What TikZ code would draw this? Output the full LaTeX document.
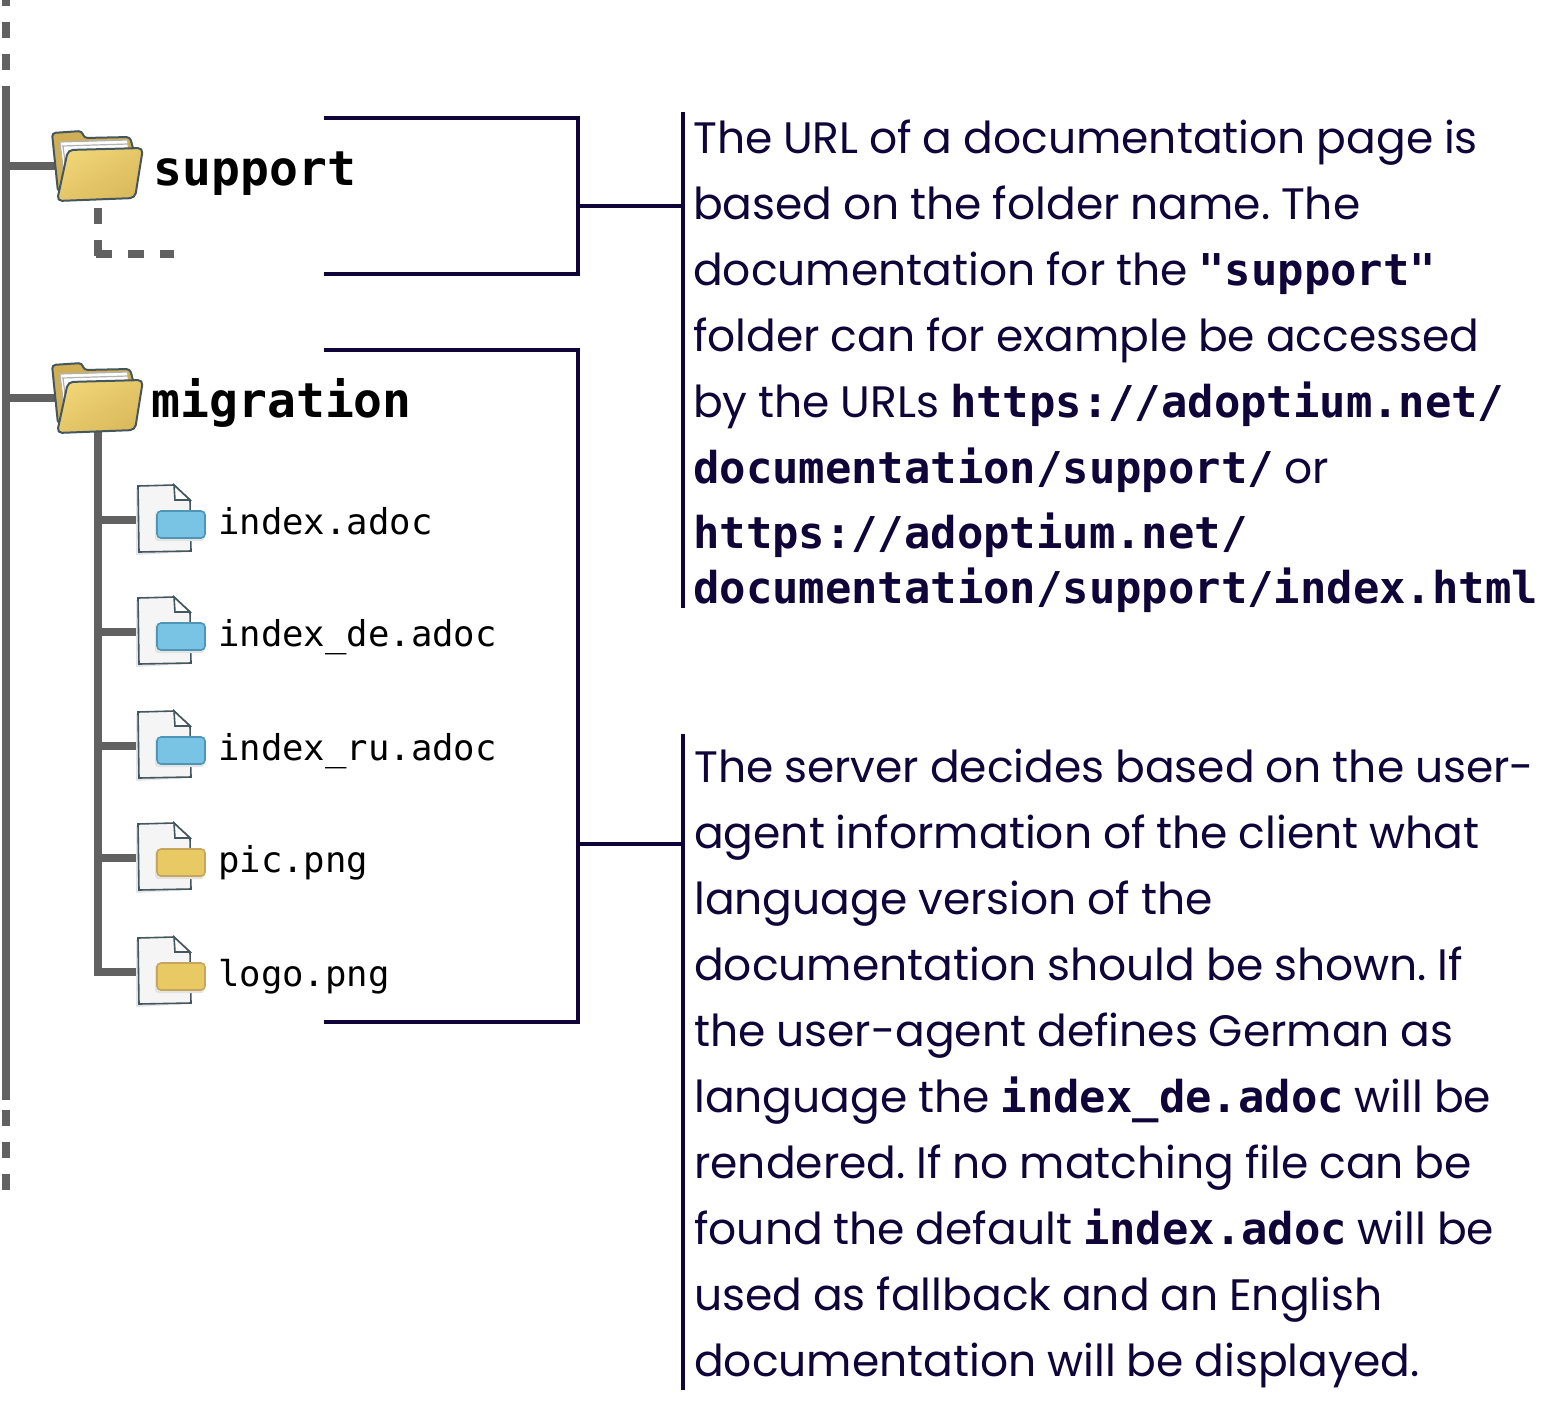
\documentclass[tikz,border=0pt]{standalone}
\usepackage{fontspec}
\setmainfont[WordSpace=0.92]{Poppins}
\setmonofont{DejaVu Sans Mono}
\usetikzlibrary{calc}
\definecolor{inkblue}{HTML}{0F0538}
\definecolor{treegrey}{HTML}{616161}
\definecolor{iconedge}{HTML}{44575E}
\definecolor{folderback}{HTML}{CFAE55}
\definecolor{folderlight}{HTML}{EFD475}
\definecolor{folderdark}{HTML}{DABA5C}
\definecolor{badgeblue}{HTML}{79C4E4}
\definecolor{badgeblueedge}{HTML}{4F95B8}
\definecolor{badgeyellow}{HTML}{E9C964}
\definecolor{badgeyellowedge}{HTML}{C6A65C}
\tikzstyle{treeline}=[draw=treegrey, line width=8pt]
\tikzstyle{treedash}=[treeline, dash pattern=on 16pt off 16pt]
\tikzstyle{brace}=[draw=inkblue, line width=4pt]
\tikzstyle{bodyline}=[anchor=base west, inner sep=0pt, text=inkblue, font=\fontsize{44}{44}\selectfont\frenchspacing]
\tikzstyle{foldername}=[anchor=base west, inner sep=0pt, font=\fontsize{48}{48}\selectfont\ttfamily\bfseries]
\tikzstyle{filename}=[anchor=base west, inner sep=0pt, font=\fontsize{35.6}{35.6}\selectfont\ttfamily]
\newcommand{\mn}[1]{{\fontsize{43.85}{44}\selectfont\ttfamily\bfseries #1}}
\newcommand{\foldericon}[1]{%
	\begin{scope}[shift={(#1)}]
		\draw[iconedge, line width=2pt, fill=folderback, rounded corners=3.5pt]
			(0,3) -- (30,1) -- (32,8) -- (78,7) -- (82,22) -- (10,60) -- (6,62) -- cycle;
		\fill[white] (8,12) -- (75,10) -- (76,20) -- (12,40) -- cycle;
		\draw[gray!60, line width=1.2pt] (8,12) -- (75,10) (10,16) -- (76,14) (8,12) -- (11,40) (11,16) -- (14,40);
		\shade[left color=folderlight, right color=folderdark, shading angle=30, draw=iconedge, line width=2pt, rounded corners=5pt]
			(16,20) -- (91,18) -- (83,68) -- (5,71) -- cycle;
	\end{scope}}
\newcommand{\fileicon}[2]{%
	\begin{scope}[shift={(#1)}]
		\fill[gray!20] (-2,3) -- (36,2) -- (53,17) -- (53,67) -- (-2,70) -- cycle;
		\fill[gray!8] (0,1) -- (36,0) -- (52,15) -- (53,66) -- (1,67) -- cycle;
		\draw[iconedge, line width=1.6pt] (0,1) -- (36,0) -- (52,15) -- (53,66) -- (1,67) -- cycle;
		\draw[iconedge, fill=white, line width=1.6pt] (36,0) -- (37,15) -- (52,15) -- cycle;
		\fill[gray!22, rounded corners=3pt] (17,27) rectangle (66,56);
		\draw[#2edge, fill=#2, line width=1.6pt, rounded corners=4pt] (19,26) rectangle (67,53);
	\end{scope}}

\begin{document}
\begin{tikzpicture}[x=1pt, y=-1pt]
	\useasboundingbox (0,0) rectangle (1552,1400);
	\coordinate (trunktop) at (6,86);
	\coordinate (trunkbot) at (6,1100);
	\coordinate (dashtop) at (6,70);
	\coordinate (dashtopend) at (6,0);
	\coordinate (dashbot) at (6,1110);
	\coordinate (dashbotend) at (6,1190);
	\coordinate (suptap) at (6,166);
	\coordinate (migtap) at (6,398);
	\coordinate (supfolder) at (52,130);
	\coordinate (migfolder) at (52,362);
	\coordinate (supdash) at (98,208);
	\coordinate (supcorner) at (98,254);
	\coordinate (supdashend) at (174,254);
	\coordinate (migdown) at (98,425);
	\coordinate (miglast) at (98,976);
	% tree
	\draw[treeline, line cap=butt] (trunktop) -- (trunkbot);
	\draw[treedash] (dashtop) -- (dashtopend);
	\draw[treedash] (dashbot) -- (dashbotend);
	\draw[treeline] (suptap) -- (supfolder |- suptap) -- ++(4,0);
	\draw[treeline] (migtap) -- (migfolder |- migtap) -- ++(4,0);
	\draw[treedash] (supdash) -- (supcorner |- 0,256);
	\draw[treedash] ($(supcorner)+(-2,0)$) -- (supdashend);
	\draw[treeline] (migdown) -- (miglast);
	\foldericon{supfolder}
	\foldericon{migfolder}
	\node[foldername] (supname) at (153.5,185) {support};
	\node[foldername] (migname) at (151.5,417) {migration};
	% files
	\foreach \fname/\ypos/\ftext/\fcol in {fa/520/index.adoc/badgeblue, fb/632/index\_de.adoc/badgeblue, fc/746/index\_ru.adoc/badgeblue, fd/858/pic.png/badgeyellow, fe/972/logo.png/badgeyellow} {
		\coordinate (\fname) at (140,\ypos);
		\draw[treeline] (miglast |- \fname) -- (\fname);
		\fileicon{138,\ypos-35}{\fcol}
		\node[filename] (\fname text) at (218,\ypos+14) {\ftext};
	}
	% brackets
	\coordinate (supa) at (324,118);
	\coordinate (supb) at (578,118);
	\coordinate (supc) at (578,274);
	\coordinate (supd) at (324,274);
	\coordinate (supmid) at (578,206);
	\coordinate (supbar) at (683,206);
	\coordinate (supbartop) at (683,112);
	\coordinate (supbarbot) at (683,608);
	\coordinate (miga) at (324,350);
	\coordinate (migb) at (578,350);
	\coordinate (migc) at (578,1022);
	\coordinate (migd) at (324,1022);
	\coordinate (migmid) at (578,844);
	\coordinate (migbar) at (683,844);
	\coordinate (migbartop) at (683,734);
	\coordinate (migbarbot) at (683,1390);
	\draw[brace] (supa) -- (supb) -- (supc) -- (supd);
	\draw[brace] (supmid) -- (supbar);
	\draw[brace] (supbartop) -- (supbarbot);
	\draw[brace] (miga) -- (migb) -- (migc) -- (migd);
	\draw[brace] (migmid) -- (migbar);
	\draw[brace] (migbartop) -- (migbarbot);
	% text
	\node[bodyline] (sa) at (693,153) {The URL of a documentation page is};
	\node[bodyline] (sb) at (693,219) {based on the folder name. The};
	\node[bodyline] (sc) at (693,285) {documentation for the \mn{"support"}};
	\node[bodyline] (sd) at (693,351) {folder can for example be accessed};
	\node[bodyline] (se) at (693,417) {by the URLs \mn{https://adoptium.net/}};
	\node[bodyline] (sf) at (693,483) {\mn{documentation/support/} or};
	\node[bodyline] (sg) at (693,548) {\mn{https://adoptium.net/}};
	\node[bodyline] (sh) at (693,603) {\mn{documentation/support/index.html}};
	\node[bodyline] (ma) at (694,782) {The server decides based on the user-};
	\node[bodyline] (mb) at (694,848) {agent information of the client what};
	\node[bodyline] (mc) at (694,914) {language version of the};
	\node[bodyline] (md) at (694,980) {documentation should be shown. If};
	\node[bodyline] (me) at (694,1046) {the user-agent defines German as};
	\node[bodyline] (mf) at (694,1112) {language the \mn{index\_de.adoc} will be};
	\node[bodyline] (mg) at (694,1178) {rendered. If no matching file can be};
	\node[bodyline] (mh) at (694,1244) {found the default \mn{index.adoc} will be};
	\node[bodyline] (mi) at (694,1310) {used as fallback and an English};
	\node[bodyline] (mj) at (694,1376) {documentation will be displayed.};
\end{tikzpicture}
\end{document}
